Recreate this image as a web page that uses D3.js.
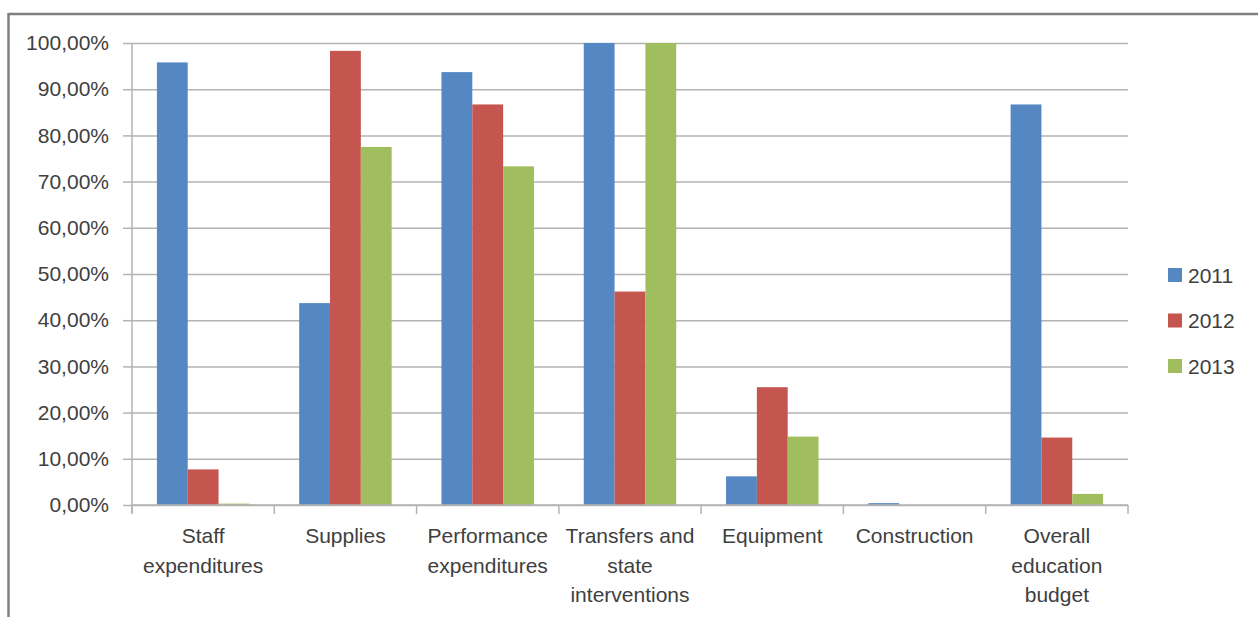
<!DOCTYPE html>
<html>
<head>
<meta charset="utf-8">
<script src="https://cdn.jsdelivr.net/npm/d3@7"></script>
<style>
  body { margin: 0; background: #fff; }
  svg { display: block; font-family: "Liberation Sans", Arial, sans-serif; }
  .tick text { fill: #404040; }
</style>
</head>
<body>
<script>
// categorie e serie
const categories = [
  ["Staff", "expenditures"],
  ["Supplies"],
  ["Performance", "expenditures"],
  ["Transfers and", "state", "interventions"],
  ["Equipment"],
  ["Construction"],
  ["Overall", "education", "budget"]
];
const years = ["2011", "2012", "2013"];
const values2011 = [95.8, 43.7, 93.7, 100, 6.2, 0.4, 86.7];
const values2012 = [7.7, 98.3, 86.7, 46.2, 25.5, 0, 14.6];
const values2013 = [0.3, 77.5, 73.3, 100, 14.8, 0, 2.4];
const yTicks = [0, 10, 20, 30, 40, 50, 60, 70, 80, 90, 100];
const colors = ["#5587C3", "#C4564F", "#A0BE5E"];

const width = 1258;
const height = 617;
const marginLeft = 132;
const marginRight = 130;
const marginTop = 43;
const marginBottom = 112;

const series = [values2011, values2012, values2013];
const catNames = categories.map(c => c.join(" "));

const svg = d3.create("svg")
  .attr("width", width)
  .attr("height", height);

// cornice del grafico
svg.append("line")
  .attr("x1", 8.5).attr("x2", width)
  .attr("y1", 14).attr("y2", 14)
  .attr("stroke", "#7f7f7f").attr("stroke-width", 2.5);
svg.append("line")
  .attr("x1", 8.5).attr("x2", 8.5)
  .attr("y1", 13).attr("y2", height)
  .attr("stroke", "#7f7f7f").attr("stroke-width", 2.5);

const yScale = d3.scaleLinear()
  .domain([0, 100])
  .range([height - marginBottom, marginTop]);

const x0 = d3.scaleBand()
  .domain(catNames)
  .range([marginLeft, width - marginRight])
  .paddingInner(0.35)
  .paddingOuter(0.175);

const x1 = d3.scaleBand()
  .domain(years)
  .range([0, x0.bandwidth()]);

const fmt = d => d3.format(".2f")(d).replace(".", ",") + "%";

// griglia + asse y
svg.append("g")
  .attr("transform", `translate(${marginLeft},0)`)
  .call(d3.axisLeft(yScale).tickValues(yTicks).tickFormat(fmt).tickSize(9).tickPadding(14))
  .call(g => g.select(".domain").attr("stroke", "#b3b3b3").attr("stroke-width", 1.5)
      .attr("d", `M0,${marginTop}V${height - marginBottom + 8}`))
  .call(g => g.selectAll(".tick line").attr("stroke", "#b3b3b3").attr("stroke-width", 1.5))
  .call(g => g.selectAll(".tick").append("line")
      .attr("x1", 0).attr("x2", width - marginRight - marginLeft)
      .attr("stroke", "#b3b3b3").attr("stroke-width", 1.5))
  .call(g => g.selectAll("text").attr("font-size", 21).attr("font-family", "Liberation Sans, Arial, sans-serif"));

// barre
const gruppi = svg.append("g")
  .selectAll("g")
  .data(catNames)
  .join("g")
  .attr("transform", d => `translate(${x0(d)},0)`);

gruppi.selectAll("rect")
  .data((d, i) => years.map((y, j) => ({ year: y, value: series[j][i], color: colors[j] })))
  .join("rect")
  .attr("x", d => x1(d.year))
  .attr("width", x1.bandwidth())
  .attr("y", d => yScale(d.value))
  .attr("height", d => yScale(0) - yScale(d.value))
  .attr("fill", d => d.color);

// asse x: tick ai confini delle categorie
const step = x0.step();
const boundaries = d3.range(categories.length + 1).map(i => marginLeft + i * step);
svg.append("g")
  .selectAll("line")
  .data(boundaries)
  .join("line")
  .attr("x1", d => d).attr("x2", d => d)
  .attr("y1", yScale(0)).attr("y2", yScale(0) + 9)
  .attr("stroke", "#b3b3b3").attr("stroke-width", 1.5);
svg.append("line")
  .attr("x1", marginLeft).attr("x2", width - marginRight)
  .attr("y1", yScale(0)).attr("y2", yScale(0))
  .attr("stroke", "#b3b3b3").attr("stroke-width", 1.5);

// etichette delle categorie
svg.append("g")
  .selectAll("text")
  .data(categories)
  .join("text")
  .attr("x", (d, i) => x0(catNames[i]) + x0.bandwidth() / 2)
  .attr("y", 543)
  .attr("text-anchor", "middle")
  .attr("font-size", 21)
  .attr("fill", "#404040")
  .selectAll("tspan")
  .data(d => d)
  .join("tspan")
  .attr("x", function () { return d3.select(this.parentNode).attr("x"); })
  .attr("dy", (d, i) => i === 0 ? 0 : 29.5)
  .text(d => d);

// legenda
const legend = svg.append("g")
  .selectAll("g")
  .data(years)
  .join("g")
  .attr("transform", (d, i) => `translate(1168,${275 + i * 45.5})`);
legend.append("rect")
  .attr("x", 0).attr("y", -7)
  .attr("width", 14).attr("height", 14)
  .attr("fill", (d, i) => colors[i]);
legend.append("text")
  .attr("x", 20).attr("y", 0)
  .attr("dy", "0.36em")
  .attr("font-size", 21)
  .attr("fill", "#404040")
  .text(d => d);

document.body.appendChild(svg.node());
</script>
</body>
</html>
